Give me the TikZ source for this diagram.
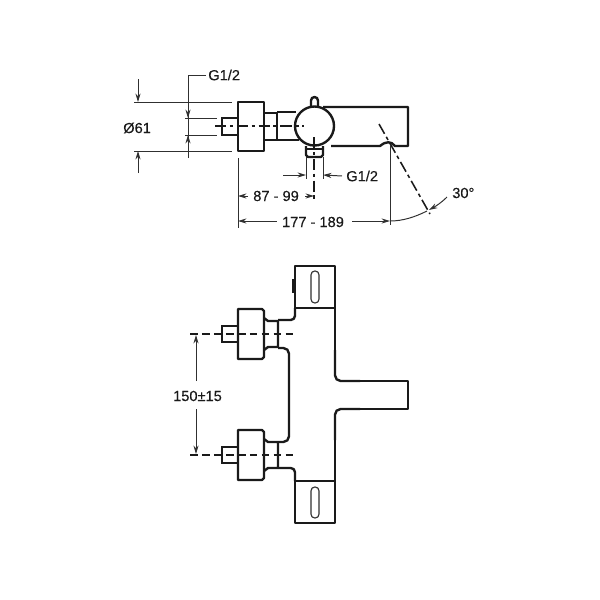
\documentclass[tikz,border=0pt]{standalone}
\usepackage{fontspec}
\setmainfont{Liberation Sans}[FakeBold=0.2]
\usetikzlibrary{arrows.meta}
\definecolor{inkdark}{HTML}{1A1A1A}
\definecolor{dimgray}{HTML}{303030}

\begin{document}
\begin{tikzpicture}[
    x=0.025cm, y=-0.025cm,
    outl/.style={line width=1.7pt, inkdark, line join=round},
    thinl/.style={line width=1pt, inkdark},
    slotl/.style={line width=0.8pt, dimgray},
    dimln/.style={line width=0.7pt, dimgray},
    dimarr/.style={dimln, -{Stealth[length=6pt, width=3.6pt]}},
    axisl/.style={line width=1.1pt, inkdark, dash pattern=on 8pt off 2.5pt on 2.5pt off 2.5pt},
    axisd/.style={line width=1.1pt, inkdark, dash pattern=on 5.5pt off 3pt},
    lbl/.style={font=\fontsize{10.4}{12}\selectfont, text=inkdark, inner sep=0pt}
]
\useasboundingbox (0,0) rectangle (600,600);

% Side view: wall fitting
\draw[outl] (238,102) rectangle (264,151);
\draw[thinl] (238,118) -- (222,118) -- (222,135) -- (238,135);
\draw[outl] (264,113) -- (277,113) -- (277,140) -- (264,140);
\draw[outl] (277,112) -- (296,112);
\draw[outl] (277,140) -- (299,140);

% Side view: valve body and spout
\draw[outl] (314.5,126) circle (19.5);
\draw[outl] (311,107) -- (311,100.5) arc (180:360:3.5) -- (318,107);
\draw[outl] (323,107) -- (408,107) -- (408,146) -- (395,146)
    .. controls (391,141) and (386,141) .. (380,146) -- (331,146);
\draw[outl] (306,146) -- (306,155) -- (308,157) -- (321,157) -- (323,155) -- (323,146);
\draw[thinl] (306,149) -- (323,149);

% Centre lines
\draw[axisl] (215,126) -- (304,126);
\draw[axisl] (314,137) -- (314,200);
\draw[axisl] (379,124) -- (430,214);

% Dimensions, side view
\node[lbl, anchor=west] (gtop) at (208,75) {G1/2};
\draw[dimln] (gtop.west) ++(-2,0) -- (188,75) -- (188,158);
\draw[dimarr] (188,100) -- (188,118);
\draw[dimarr] (188,158) -- (188,135);
\draw[dimln] (185,118) -- (217,118);
\draw[dimln] (185,135) -- (217,135);

\node[lbl, anchor=west] (dia) at (123,128) {Ø61};
\draw[dimln] (134,102) -- (232,102);
\draw[dimln] (134,151) -- (232,151);
\draw[dimarr] (138,79) -- (138,102);
\draw[dimarr] (138,173) -- (138,151);

\draw[dimln] (238,158) -- (238,228);
\node[lbl, anchor=west] (reach) at (253,196) {87 - 99};
\draw[dimarr] (reach.west) ++(-5,0) -- (238,196);
\draw[dimarr] (305,196) -- (314,196);

\node[lbl, anchor=west] (gbot) at (346,176) {G1/2};
\draw[dimln] (306,157) -- (306,179);
\draw[dimln] (323,157) -- (323,179);
\draw[dimarr] (283,175) -- (306,175);
\draw[dimarr] (gbot.west) ++(-4,0) -- (323,175);

\node[lbl] (total) at (313,222) {177 - 189};
\draw[dimarr] (total.west) ++(-5,-1) -- (238,221);
\draw[dimarr] (total.east) ++(8,-1) -- (390,221);
\draw[dimln] (390,145) -- (390,225);

\node[lbl, anchor=west] (angle) at (452,193) {30°};
\draw[dimarr] (447,197) .. controls (441,203) and (436,206) .. (429,210);
\draw[dimln] (427,211) .. controls (415,217) and (403,221) .. (390,221);

% Front view: body outline, fillets only where the parts meet
\draw[outl, rounded corners=3pt] (278,320) -- (295,320) -- (295,308);
\draw[outl] (295,308) -- (295,266) -- (335,266) -- (335,350);
\draw[outl, rounded corners=4pt] (335,350) -- (335,381) -- (360,381);
\draw[outl] (360,381) -- (408,381) -- (408,409) -- (360,409);
\draw[outl, rounded corners=4pt] (360,409) -- (335,409) -- (335,440);
\draw[outl] (335,440) -- (335,523) -- (295,523) -- (295,481);
\draw[outl, rounded corners=3pt] (295,481) -- (295,468) -- (278,468);
\draw[outl, rounded corners=4pt] (278,348) -- (289,348) -- (289,442) -- (278,442);
\draw[outl] (295,308) -- (335,308);
\draw[outl] (295,481) -- (335,481);
\draw[line width=1.6pt, inkdark] (293,279) -- (293,293);

% Front view: slots
\draw[slotl, rounded corners=2.7pt] (311,271) rectangle (319,303);
\draw[slotl, rounded corners=2.7pt] (311,487) rectangle (319,518);

% Front view: both wall fittings
\foreach \cy in {334,455} {
    \begin{scope}[yshift=-0.025cm*\cy]
        \draw[outl] (262,-25) -- (238,-25) -- (238,25) -- (262,25) -- (264,23) -- (264,-23) -- cycle;
        \draw[thinl] (238,-8) -- (222,-8) -- (222,8) -- (238,8);
        \draw[outl] (264,-16) -- (268,-13) -- (278,-13) -- (278,13) -- (268,13) -- (264,16);
        \draw[axisd] (190,0) -- (293,0);
    \end{scope}
}

% Spacing of the fittings
\node[lbl] (spacing) at (197.5,396) {150±15};
\draw[dimarr] (196,381) -- (196,335);
\draw[dimarr] (196,409) -- (196,454);

\end{tikzpicture}
\end{document}
